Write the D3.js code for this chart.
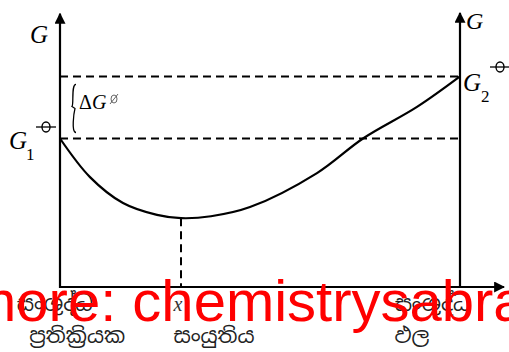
<!DOCTYPE html>
<html>
<head>
<meta charset="utf-8">
<script src="https://cdn.jsdelivr.net/npm/d3@7"></script>
<style>
  html, body { margin: 0; padding: 0; background: #fff; }
  svg { display: block; }
  .serif { font-family: "Liberation Serif", "DejaVu Serif", serif; }
  .si { font-family: "Noto Sans Sinhala", "Iskoola Pota", "Noto Sans", sans-serif; }
</style>
</head>
<body>
<svg id="chart" width="509" height="352"></svg>
<script>
// Free energy of the reaction mixture against its composition
const composition = [0, 0.075, 0.1575, 0.2425, 0.3025, 0.3775, 0.475, 0.6425, 0.7575, 0.8925, 1];
const gibbs       = [5.5, 4.07, 3.11, 2.67, 2.55, 2.62, 2.96, 4.22, 5.5, 6.67, 7.8];
const G1 = 5.5;       // pure reactants
const G2 = 7.8;       // pure products
const xEq = 0.3025;   // equilibrium composition
const Gmin = 2.55;

const bottomLabels = [
  { text: "සංශුද්ධ", at: -0.0125, row: 0 },
  { text: "ප්‍රතික්‍රියක", at: 0.043, row: 1 },
  { text: "සංයුතිය", at: 0.385, row: 1 },
  { text: "සංශුද්ධ", at: 0.932, row: 0 },
  { text: "ඵල", at: 0.88, row: 1 }
];

const svg = d3.select("#chart");
const x = d3.scaleLinear().domain([0, 1]).range([60, 460]);
const y = d3.scaleLinear().domain([0, 10]).range([287, 17]);

svg.append("defs").append("marker")
  .attr("id", "arrow").attr("viewBox", "0 0 10 10")
  .attr("refX", 9).attr("refY", 5)
  .attr("markerWidth", 5).attr("markerHeight", 5)
  .attr("markerUnits", "strokeWidth")
  .attr("orient", "auto")
  .append("path").attr("d", "M0,0 L10,5 L0,10 Z").attr("fill", "#000");

const ink = "#000";

// dashed reference levels for G1 and G2
[G1, G2].forEach(g => {
  svg.append("line")
    .attr("x1", x(0)).attr("x2", x(1))
    .attr("y1", y(g)).attr("y2", y(g))
    .attr("stroke", ink).attr("stroke-width", 2)
    .attr("stroke-dasharray", "8,5");
});

// dashed drop line at the minimum
svg.append("line")
  .attr("x1", x(xEq)).attr("x2", x(xEq))
  .attr("y1", y(Gmin)).attr("y2", y(0))
  .attr("stroke", ink).attr("stroke-width", 2)
  .attr("stroke-dasharray", "8,5");

// axes
svg.append("line")
  .attr("x1", x(0)).attr("x2", x(1.11))
  .attr("y1", y(0)).attr("y2", y(0))
  .attr("stroke", ink).attr("stroke-width", 2.2)
  .attr("marker-end", "url(#arrow)");
svg.append("line")
  .attr("x1", x(0)).attr("x2", x(0))
  .attr("y1", y(0) + 1).attr("y2", y(10.12))
  .attr("stroke", ink).attr("stroke-width", 2.2)
  .attr("marker-end", "url(#arrow)");
svg.append("line")
  .attr("x1", x(1)).attr("x2", x(1))
  .attr("y1", y(0) + 1).attr("y2", y(10.15))
  .attr("stroke", ink).attr("stroke-width", 2.2)
  .attr("marker-end", "url(#arrow)");

// free-energy curve
const line = d3.line()
  .x((d, i) => x(composition[i]))
  .y(d => y(d))
  .curve(d3.curveCatmullRom.alpha(0.5));
svg.append("path")
  .datum(gibbs)
  .attr("d", line)
  .attr("fill", "none")
  .attr("stroke", ink)
  .attr("stroke-width", 2.2);

// axis titles
svg.append("text").attr("class", "serif")
  .attr("x", 30).attr("y", 43)
  .attr("font-size", 25).attr("font-style", "italic")
  .text("G");
svg.append("text").attr("class", "serif")
  .attr("x", 466).attr("y", 29)
  .attr("font-size", 24).attr("font-style", "italic")
  .text("G");

// standard-state symbol: circle with a bar through it
function plimsoll(cx, cy, r) {
  svg.append("ellipse").attr("cx", cx).attr("cy", cy)
    .attr("rx", r * 0.8).attr("ry", r)
    .attr("fill", "none").attr("stroke", ink).attr("stroke-width", 1.4);
  svg.append("line").attr("x1", cx - r * 2).attr("x2", cx + r * 2)
    .attr("y1", cy).attr("y2", cy)
    .attr("stroke", ink).attr("stroke-width", 1.3);
}

// G1 label
svg.append("text").attr("class", "serif")
  .attr("x", 9).attr("y", 149)
  .attr("font-size", 25).attr("font-style", "italic").text("G");
svg.append("text").attr("class", "serif")
  .attr("x", 26).attr("y", 160)
  .attr("font-size", 17).text("1");
plimsoll(46, 127, 5);

// G2 label
svg.append("text").attr("class", "serif")
  .attr("x", 463).attr("y", 91)
  .attr("font-size", 25).attr("font-style", "italic").text("G");
svg.append("text").attr("class", "serif")
  .attr("x", 481).attr("y", 102)
  .attr("font-size", 17).text("2");
plimsoll(500, 67, 5);

// brace and ΔG°
const bx = 73, bt = y(G2) + 8, bb = y(G1) - 6, bm = (bt + bb) / 2;
svg.append("path")
  .attr("d", `M${bx + 3},${bt} C${bx - 2},${bt} ${bx + 1},${bm - 4} ${bx - 1},${bm - 2}
              L${bx + 2},${bm} C${bx + 1},${bm + 4} ${bx - 2},${bb} ${bx + 3},${bb}`)
  .attr("fill", "none").attr("stroke", ink).attr("stroke-width", 1.3);
svg.append("text").attr("class", "serif")
  .attr("x", 79).attr("y", 109)
  .attr("font-size", 20)
  .append("tspan").text("Δ")
  .append("tspan").attr("font-style", "italic").text("G");
svg.append("ellipse").attr("cx", 114).attr("cy", 99)
  .attr("rx", 3).attr("ry", 4)
  .attr("fill", "none").attr("stroke", "#555").attr("stroke-width", 0.9);
svg.append("line").attr("x1", 110).attr("x2", 118)
  .attr("y1", 104).attr("y2", 94)
  .attr("stroke", "#555").attr("stroke-width", 0.9);

// x label under the drop line
svg.append("text").attr("class", "serif")
  .attr("x", x(xEq) - 3).attr("y", 311)
  .attr("text-anchor", "middle")
  .attr("font-size", 20).attr("font-style", "italic").attr("fill", "#333")
  .text("x");

// Sinhala labels along the composition axis
svg.selectAll("text.bl").data(bottomLabels).enter().append("text")
  .attr("class", "bl si")
  .attr("x", d => x(d.at))
  .attr("y", d => d.row === 0 ? 311 : 343)
  .attr("text-anchor", "middle")
  .attr("font-size", 21).attr("fill", "#222")
  .text(d => d.text);

// site watermark
svg.append("text")
  .attr("x", -32).attr("y", 321)
  .attr("font-family", "Liberation Sans, Arial, sans-serif")
  .attr("font-size", 58).attr("fill", "#ff0000")
  .text("more: chemistrysabra.com");
svg.append("text")
  .attr("x", 38).attr("y", 397)
  .attr("font-family", "Liberation Sans, Arial, sans-serif")
  .attr("font-size", 58).attr("fill", "#ff0000")
  .text("Online Chemistry");
</script>
</body>
</html>
